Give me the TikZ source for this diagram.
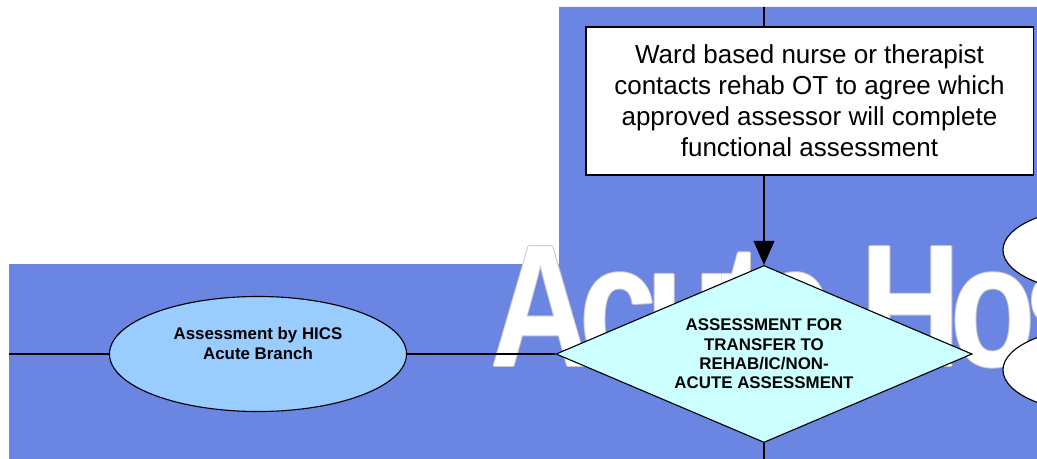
\documentclass[tikz,border=0pt]{standalone}
\usepackage{fontspec}
\setmainfont{Liberation Sans}
\usepackage{tikz}
\usetikzlibrary{shapes.geometric}
\usetikzlibrary{arrows.meta}
\tikzset{>={Triangle[length=0.6cm,width=0.52cm]}}
\definecolor{bg1}{RGB}{106,134,226}
\definecolor{b1}{HTML}{99CCFF}
\definecolor{c1}{HTML}{CCFFFF}
\definecolor{g1}{RGB}{200,200,200}
\tikzstyle{flow}=[line width=0.8pt]
\tikzstyle{title}=[anchor=base west,inner sep=0pt,font=\fontsize{124}{124}\selectfont\bfseries\addfontfeature{LetterSpace=-8},xscale=0.8,transform shape]
\tikzstyle{HICS}=[ellipse,draw,flow,fill=b1,minimum width=7.425cm,minimum height=2.875cm,inner sep=0pt]
\tikzstyle{HICS text}=[align=center,inner sep=0pt,font=\fontsize{12}{14.2}\selectfont\bfseries]
\tikzstyle{decision}=[diamond,draw,flow,fill=c1,shape aspect=2.35,minimum width=10.4cm,minimum height=4.425cm,inner sep=0pt,align=center,font=\fontsize{12}{13.8}\selectfont\bfseries]
\tikzstyle{task}=[rectangle,draw,flow,fill=white,minimum width=11.175cm,minimum height=3.7cm,align=center,font=\fontsize{18.5}{22}\selectfont]
\tikzstyle{other}=[ellipse,draw,flow,fill=white,minimum width=5cm,minimum height=2.15cm]

\begin{document}
\begin{tikzpicture}[x=0.025cm,y=-0.025cm]
  \useasboundingbox (0,0) rectangle (1037,459);
  \clip (0,0) rectangle (1037,459);
  \fill[bg1] (9,264) -- (559,264) -- (559,7) -- (1037,7) -- (1037,459) -- (9,459) -- cycle;
  % watermark, grey rim under the white letters
  \foreach \dx/\dy [count=\i] in {1/0,-1/0,0/1,0/-1}
    \node[title,text=g1] (rim\i) at (490+\dx,366+\dy) {Acute Hospital};
  \node[title,text=white] (watermark) at (490,366) {Acute Hospital};

  \node[HICS] (hics) at (258,354) {};
  \node[HICS text] (hicslabel) at (258,343) {Assessment by HICS\\Acute Branch};
  \node[decision] (assess) at (764,354) {ASSESSMENT FOR\\TRANSFER TO\\REHAB/IC/NON-\\ACUTE ASSESSMENT};
  \node[task] (ward) at (809.5,101) {Ward based nurse or therapist\\contacts rehab OT to agree which\\approved assessor will complete\\functional assessment};
  \node[other] (next1) at (1103,250) {};
  \node[other] (next2) at (1103,370) {};

  \coordinate (in) at (764,7);
  \coordinate (out) at (764,459);
  \coordinate (from) at (9,354);
  \draw[flow] (in) -- (in |- ward.north);
  \draw[flow,->] (assess |- ward.south) -- (assess.north);
  \draw[flow] (assess.south) -- (out);
  \draw[flow] (from) -- (hics.west);
  \draw[flow] (hics.east) -- (assess.west);
\end{tikzpicture}
\end{document}
